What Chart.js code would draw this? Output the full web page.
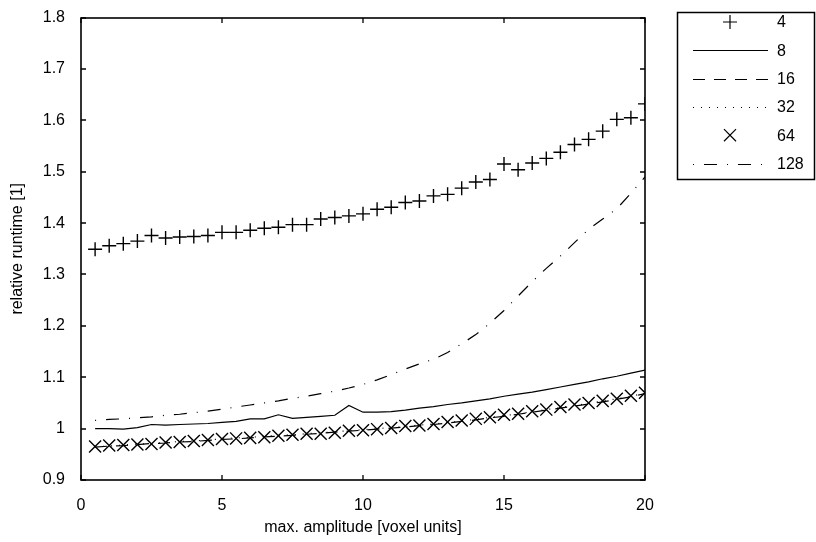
<!DOCTYPE html>
<html>
<head>
<meta charset="utf-8">
<script src="https://cdn.jsdelivr.net/npm/chart.js@4/dist/chart.umd.min.js"></script>
<style>
    html, body { margin: 0; padding: 0; background: #fff; }
    canvas { display: block; }
</style>
</head>
<body>
<canvas id="runtimeChart" width="816" height="542"></canvas>
<script>
// amplitude samples (x)
const amplitudes = [0.5, 1, 1.5, 2, 2.5, 3, 3.5, 4, 4.5, 5, 5.5, 6, 6.5, 7, 7.5, 8, 8.5, 9, 9.5, 10,
    10.5, 11, 11.5, 12, 12.5, 13, 13.5, 14, 14.5, 15, 15.5, 16, 16.5, 17, 17.5, 18, 18.5, 19, 19.5, 20];

const seriesLabels = ['4', '8', '16', '32', '64', '128'];

// relative runtime per block size
const runtime4 = [1.349, 1.356, 1.360, 1.365, 1.376, 1.371, 1.373, 1.374, 1.376, 1.382, 1.382, 1.386, 1.390, 1.392, 1.397, 1.397, 1.408, 1.411, 1.414, 1.418,
    1.427, 1.431, 1.440, 1.443, 1.453, 1.456, 1.468, 1.480, 1.485, 1.515, 1.504, 1.517, 1.526, 1.538, 1.553, 1.563, 1.579, 1.602, 1.605, 1.632];
const runtime8 = [1.000, 1.000, 0.999, 1.002, 1.008, 1.007, 1.008, 1.009, 1.010, 1.012, 1.014, 1.019, 1.019, 1.027, 1.020, 1.022, 1.024, 1.026, 1.045, 1.032,
    1.032, 1.033, 1.036, 1.040, 1.043, 1.047, 1.050, 1.054, 1.058, 1.063, 1.067, 1.071, 1.076, 1.081, 1.086, 1.091, 1.097, 1.102, 1.108, 1.114];
const runtime16 = [0.964, 0.966, 0.967, 0.969, 0.971, 0.972, 0.974, 0.975, 0.977, 0.979, 0.980, 0.982, 0.984, 0.985, 0.987, 0.989, 0.991, 0.993, 0.995, 0.997,
    0.999, 1.001, 1.003, 1.006, 1.008, 1.011, 1.014, 1.017, 1.021, 1.024, 1.028, 1.032, 1.036, 1.040, 1.044, 1.048, 1.052, 1.057, 1.062, 1.068];
const runtime32 = [0.965, 0.966, 0.968, 0.970, 0.971, 0.973, 0.975, 0.976, 0.978, 0.980, 0.982, 0.983, 0.985, 0.987, 0.988, 0.990, 0.992, 0.994, 0.996, 0.998,
    1.000, 1.002, 1.004, 1.007, 1.009, 1.012, 1.015, 1.018, 1.022, 1.025, 1.029, 1.033, 1.037, 1.041, 1.045, 1.049, 1.054, 1.058, 1.063, 1.069];
const runtime64 = [0.965, 0.967, 0.968, 0.969, 0.970, 0.973, 0.974, 0.976, 0.978, 0.980, 0.981, 0.982, 0.983, 0.986, 0.988, 0.990, 0.990, 0.992, 0.996, 0.997,
    0.999, 1.001, 1.005, 1.006, 1.009, 1.013, 1.016, 1.019, 1.022, 1.027, 1.029, 1.034, 1.037, 1.042, 1.047, 1.050, 1.054, 1.058, 1.064, 1.070];
const runtime128 = [1.016, 1.018, 1.019, 1.021, 1.023, 1.026, 1.028, 1.031, 1.034, 1.038, 1.042, 1.046, 1.050, 1.054, 1.059, 1.063, 1.068, 1.073, 1.079, 1.086,
    1.095, 1.105, 1.116, 1.126, 1.135, 1.148, 1.165, 1.183, 1.205, 1.230, 1.258, 1.286, 1.312, 1.336, 1.362, 1.388, 1.408, 1.428, 1.458, 1.490];

const FONT = 'Liberation Sans, Arial, Helvetica, sans-serif';
const FONT_SIZE = 16;
const INK = '#000';

const toPoints = ys => ys.map((y, i) => ({ x: amplitudes[i], y: y }));

// ---------------------------------------------
// matlab-like frame with inward ticks
// ---------------------------------------------
const framePlugin = {
    id: 'frame',
    afterDraw(chart) {
        const { ctx, chartArea: a, scales } = chart;
        const L = Math.round(a.left), R = Math.round(a.right);
        const T = Math.round(a.top), B = Math.round(a.bottom);
        const len = 5;
        ctx.save();
        ctx.strokeStyle = INK;
        ctx.lineWidth = 1.6;
        ctx.setLineDash([]);
        ctx.strokeRect(L, T, R - L, B - T);
        ctx.lineWidth = 1.3;
        ctx.beginPath();
        scales.x.ticks.forEach(t => {
            const px = Math.round(scales.x.getPixelForValue(t.value));
            ctx.moveTo(px, B); ctx.lineTo(px, B - len);
            ctx.moveTo(px, T); ctx.lineTo(px, T + len);
        });
        scales.y.ticks.forEach(t => {
            const py = Math.round(scales.y.getPixelForValue(t.value));
            ctx.moveTo(L, py); ctx.lineTo(L + len, py);
            ctx.moveTo(R, py); ctx.lineTo(R - len, py);
        });
        ctx.stroke();
        ctx.restore();
    }
};

// ---------------------------------------------
// boxed legend on the right
// ---------------------------------------------
const legendPlugin = {
    id: 'boxLegend',
    afterDraw(chart) {
        const ctx = chart.ctx;
        const box = { x: 677.5, y: 12.5, w: 137, h: 167 };
        ctx.save();
        ctx.fillStyle = '#fff';
        ctx.fillRect(box.x, box.y, box.w, box.h);
        ctx.strokeStyle = INK;
        ctx.lineWidth = 1.5;
        ctx.strokeRect(box.x, box.y, box.w, box.h);

        chart.data.datasets.forEach((ds, i) => {
            const y = 22 + i * 28.3;
            ctx.strokeStyle = INK;
            ctx.lineWidth = ds.borderWidth || 1.2;
            if (ds.showLine !== false) {
                ctx.setLineDash(ds.borderDash || []);
                ctx.beginPath();
                ctx.moveTo(693, Math.round(y) + 0.5);
                ctx.lineTo(768, Math.round(y) + 0.5);
                ctx.stroke();
                ctx.setLineDash([]);
            } else {
                Chart.helpers.drawPoint(ctx, {
                    pointStyle: ds.pointStyle,
                    radius: ds.pointRadius,
                    borderWidth: ds.pointBorderWidth
                }, 730, y);
            }
            ctx.fillStyle = INK;
            ctx.font = FONT_SIZE + 'px ' + FONT;
            ctx.textBaseline = 'middle';
            ctx.textAlign = 'left';
            ctx.fillText(ds.label, 777, y + 1);
        });
        ctx.restore();
    }
};

const lineSet = (label, data, dash) => ({
    label: label,
    data: toPoints(data),
    borderColor: INK,
    borderWidth: 1.2,
    borderDash: dash,
    pointRadius: 0,
    fill: false,
    tension: 0
});

const markerSet = (label, data, style, r) => ({
    label: label,
    data: toPoints(data),
    showLine: false,
    pointStyle: style,
    pointRadius: r,
    pointBorderColor: INK,
    pointBackgroundColor: INK,
    pointBorderWidth: 1.4,
    borderColor: INK
});

new Chart(document.getElementById('runtimeChart').getContext('2d'), {
    type: 'line',
    data: {
        datasets: [
            markerSet(seriesLabels[0], runtime4, 'cross', 7),
            lineSet(seriesLabels[1], runtime8, []),
            lineSet(seriesLabels[2], runtime16, [12, 9]),
            lineSet(seriesLabels[3], runtime32, [1, 7]),
            markerSet(seriesLabels[4], runtime64, 'crossRot', 8.5),
            lineSet(seriesLabels[5], runtime128, [1, 10, 13, 10])
        ]
    },
    options: {
        responsive: false,
        animation: false,
        devicePixelRatio: 1,
        layout: { padding: { top: 12, right: 171, left: 0, bottom: 0 } },
        plugins: {
            legend: { display: false },
            tooltip: { enabled: false }
        },
        scales: {
            x: {
                type: 'linear',
                min: 0,
                max: 20,
                grid: { display: false },
                border: { display: false },
                ticks: { stepSize: 5, padding: 8, color: INK, font: { family: FONT, size: FONT_SIZE } },
                title: {
                    display: true,
                    text: 'max. amplitude [voxel units]',
                    color: INK,
                    font: { family: FONT, size: FONT_SIZE },
                    padding: { top: 18, bottom: 5 }
                },
                afterFit: scale => { scale.height = 62; }
            },
            y: {
                min: 0.9,
                max: 1.8,
                grid: { display: false },
                border: { display: false },
                ticks: {
                    stepSize: 0.1,
                    padding: 8,
                    color: INK,
                    font: { family: FONT, size: FONT_SIZE },
                    callback: v => String(Math.round(v * 10) / 10)
                },
                title: {
                    display: true,
                    text: 'relative runtime [1]',
                    color: INK,
                    font: { family: FONT, size: FONT_SIZE },
                    padding: { top: 8, bottom: 8 }
                },
                afterFit: scale => { scale.width = 81; }
            }
        }
    },
    plugins: [framePlugin, legendPlugin]
});
</script>
</body>
</html>
